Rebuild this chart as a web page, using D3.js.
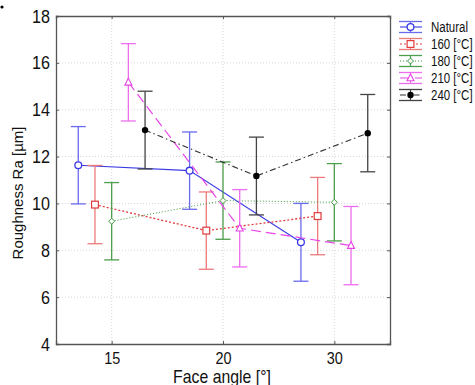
<!DOCTYPE html>
<html>
<head>
<meta charset="utf-8">
<script src="https://cdn.jsdelivr.net/npm/d3@7"></script>
<style>
  body { margin: 0; background: #fff; }
  svg text { font-family: "Liberation Sans", Arial, sans-serif; }
</style>
</head>
<body>
<div id="chart"></div>
<script>
// chart data
var groups = ["15", "20", "30"];
var seriesNames = ["Natural", "160 [°C]", "180 [°C]", "210 [°C]", "240 [°C]"];
var naturalMean = [11.63, 11.40, 8.34];
var naturalErr = [1.65, 1.65, 1.66];
var t160Mean = [9.95, 8.84, 9.46];
var t160Err = [1.67, 1.65, 1.65];
var t180Mean = [9.24, 10.12, 10.05];
var t180Err = [1.65, 1.65, 1.65];
var t210Mean = [15.17, 8.94, 8.20];
var t210Err = [1.65, 1.65, 1.67];
var t240Mean = [13.13, 11.17, 13.00];
var t240Err = [1.66, 1.66, 1.65];
var yTicks = [4, 6, 8, 10, 12, 14, 16, 18];

var svgWidth = 475;
var svgHeight = 385;

//plot area
var margin = {top: 16, right: 85, bottom: 41, left: 56};

//narrow look for the labels
var squeeze = 0.85;

var svg = d3.select("#chart")
    .append("svg")
    .attr("width", svgWidth)
    .attr("height", svgHeight);

var xScale = d3.scaleLinear()
    .domain([0.5, 3.5])
    .range([margin.left, svgWidth - margin.right]);

var yScale = d3.scaleLinear()
    .domain([4, 18])
    .range([svgHeight - margin.bottom, margin.top]);

var x0 = margin.left, x1 = svgWidth - margin.right;
var y0 = margin.top, y1 = svgHeight - margin.bottom;

//series styles
var series = [
    {name: seriesNames[0], mean: naturalMean, err: naturalErr, color: "#3a3ae6", barColor: "#6a6aef", dash: null, marker: "circle", width: 1.1},
    {name: seriesNames[1], mean: t160Mean, err: t160Err, color: "#e03c3c", barColor: "#ec7a7a", dash: "2,2", marker: "square", width: 1.3},
    {name: seriesNames[2], mean: t180Mean, err: t180Err, color: "#3f9b3f", barColor: "#4d9e4d", dash: "1,2", marker: "diamond", width: 1},
    {name: seriesNames[3], mean: t210Mean, err: t210Err, color: "#e844e8", barColor: "#ee6cee", dash: "10,5", marker: "triangle", width: 1.2},
    {name: seriesNames[4], mean: t240Mean, err: t240Err, color: "#333333", barColor: "#444444", dash: "6,3,1.5,3", marker: "dot", width: 1.1}
];
var offsetStep = 0.15;

//grid
svg.append("g").selectAll("line")
    .data(yTicks.slice(1, -1))
    .enter().append("line")
    .attr("x1", x0).attr("x2", x1)
    .attr("y1", d => yScale(d)).attr("y2", d => yScale(d))
    .attr("stroke", "#cccccc").attr("stroke-dasharray", "1,2").attr("stroke-width", 0.8);

svg.append("g").selectAll("line")
    .data(groups)
    .enter().append("line")
    .attr("x1", (d, i) => xScale(i + 1)).attr("x2", (d, i) => xScale(i + 1))
    .attr("y1", y0).attr("y2", y1)
    .attr("stroke", "#cccccc").attr("stroke-dasharray", "1,2").attr("stroke-width", 0.8);

//axes with inward ticks
var leftAxis = d3.axisLeft(yScale).tickValues(yTicks).tickSize(-3).tickPadding(7);
var rightAxis = d3.axisRight(yScale).tickValues(yTicks).tickSize(-3).tickFormat("");
var bottomAxis = d3.axisBottom(xScale).tickValues([1, 2, 3]).tickSize(-3).tickPadding(8)
    .tickFormat((d, i) => groups[i]);
var topAxis = d3.axisTop(xScale).tickValues([1, 2, 3]).tickSize(-3).tickFormat("");

var gl = svg.append("g").attr("transform", `translate(${x0},0)`).call(leftAxis);
var gr = svg.append("g").attr("transform", `translate(${x1},0)`).call(rightAxis);
var gb = svg.append("g").attr("transform", `translate(0,${y1})`).call(bottomAxis);
var gt = svg.append("g").attr("transform", `translate(0,${y0})`).call(topAxis);

[gl, gr, gb, gt].forEach(function(g) {
    g.select(".domain").attr("stroke", "#555").attr("stroke-width", 1.3);
    g.selectAll(".tick line").attr("stroke", "#555");
});
gl.selectAll(".tick text").attr("font-size", 19).attr("fill", "#111")
    .attr("transform", `scale(${squeeze},1)`);
gb.selectAll(".tick text").attr("font-size", 17).attr("fill", "#111")
    .attr("transform", `scale(${squeeze},1)`);

//axis titles
svg.append("text")
    .attr("transform", `translate(23, ${(y0 + y1) / 2 + 13}) rotate(-90)`)
    .attr("text-anchor", "middle")
    .attr("font-size", 15)
    .attr("fill", "#111")
    .text("Roughness Ra [µm]");

svg.append("text")
    .attr("transform", `translate(222, 383) scale(0.88,1)`)
    .attr("text-anchor", "middle")
    .attr("font-size", 18)
    .attr("fill", "#111")
    .text("Face angle [°]");

//small dot at top left
svg.append("circle").attr("cx", 2).attr("cy", 7).attr("r", 1.6).attr("fill", "#000");

function drawMarker(g, type, cx, cy, color) {
    if (type === "circle") {
        g.append("circle").attr("cx", cx).attr("cy", cy).attr("r", 3.4)
            .attr("fill", "#fff").attr("stroke", color).attr("stroke-width", 1.3);
    } else if (type === "square") {
        g.append("rect").attr("x", cx - 3.4).attr("y", cy - 3.4).attr("width", 6.8).attr("height", 6.8)
            .attr("fill", "#fff").attr("stroke", color).attr("stroke-width", 1.2);
    } else if (type === "diamond") {
        g.append("path").attr("d", `M${cx},${cy - 3}L${cx + 3},${cy}L${cx},${cy + 3}L${cx - 3},${cy}Z`)
            .attr("fill", "#fff").attr("stroke", color).attr("stroke-width", 1);
    } else if (type === "triangle") {
        g.append("path").attr("d", `M${cx},${cy - 4}L${cx + 3.5},${cy + 2.8}L${cx - 3.5},${cy + 2.8}Z`)
            .attr("fill", "#fff").attr("stroke", color).attr("stroke-width", 1.1);
    } else {
        g.append("circle").attr("cx", cx).attr("cy", cy).attr("r", 3.2).attr("fill", "#000");
    }
}

//series
series.forEach(function(s, k) {
    var off = (k - 2) * offsetStep;
    var g = svg.append("g");
    var pts = s.mean.map((m, i) => [xScale(i + 1 + off), yScale(m)]);

    //error bars
    s.mean.forEach(function(m, i) {
        var cx = xScale(i + 1 + off);
        var top = yScale(m + s.err[i]);
        var bot = yScale(m - s.err[i]);
        g.append("line").attr("x1", cx).attr("x2", cx).attr("y1", top).attr("y2", bot)
            .attr("stroke", s.barColor).attr("stroke-width", 1.3);
        [top, bot].forEach(function(yy) {
            g.append("line").attr("x1", cx - 7.5).attr("x2", cx + 7.5).attr("y1", yy).attr("y2", yy)
                .attr("stroke", s.barColor).attr("stroke-width", 1.3);
        });
    });

    //mean line
    g.append("path")
        .attr("d", d3.line()(pts))
        .attr("fill", "none")
        .attr("stroke", s.color)
        .attr("stroke-width", s.width)
        .attr("stroke-dasharray", s.dash);

    pts.forEach(p => drawMarker(g, s.marker, p[0], p[1], s.color));
});

//legend
var legend = svg.append("g");
series.forEach(function(s, k) {
    var ly = 27 + k * 17;
    var lg = legend.append("g");
    [ly - 5.5, ly + 5.5].forEach(function(yy) {
        lg.append("line").attr("x1", 399).attr("x2", 422).attr("y1", yy).attr("y2", yy)
            .attr("stroke", s.barColor).attr("stroke-width", 1.3);
    });
    lg.append("line").attr("x1", 410.5).attr("x2", 410.5).attr("y1", ly - 5.5).attr("y2", ly + 5.5)
        .attr("stroke", s.barColor).attr("stroke-width", 1.2);
    lg.append("line").attr("x1", 400).attr("x2", 422).attr("y1", ly).attr("y2", ly)
        .attr("stroke", s.color).attr("stroke-width", 1.1).attr("stroke-dasharray", s.dash);
    drawMarker(lg, s.marker, 410.5, ly, s.color);
    lg.append("text")
        .attr("transform", `translate(431, ${ly + 5}) scale(0.82,1)`)
        .attr("font-size", 14).attr("fill", "#111")
        .text(s.name);
});
</script>
</body>
</html>
